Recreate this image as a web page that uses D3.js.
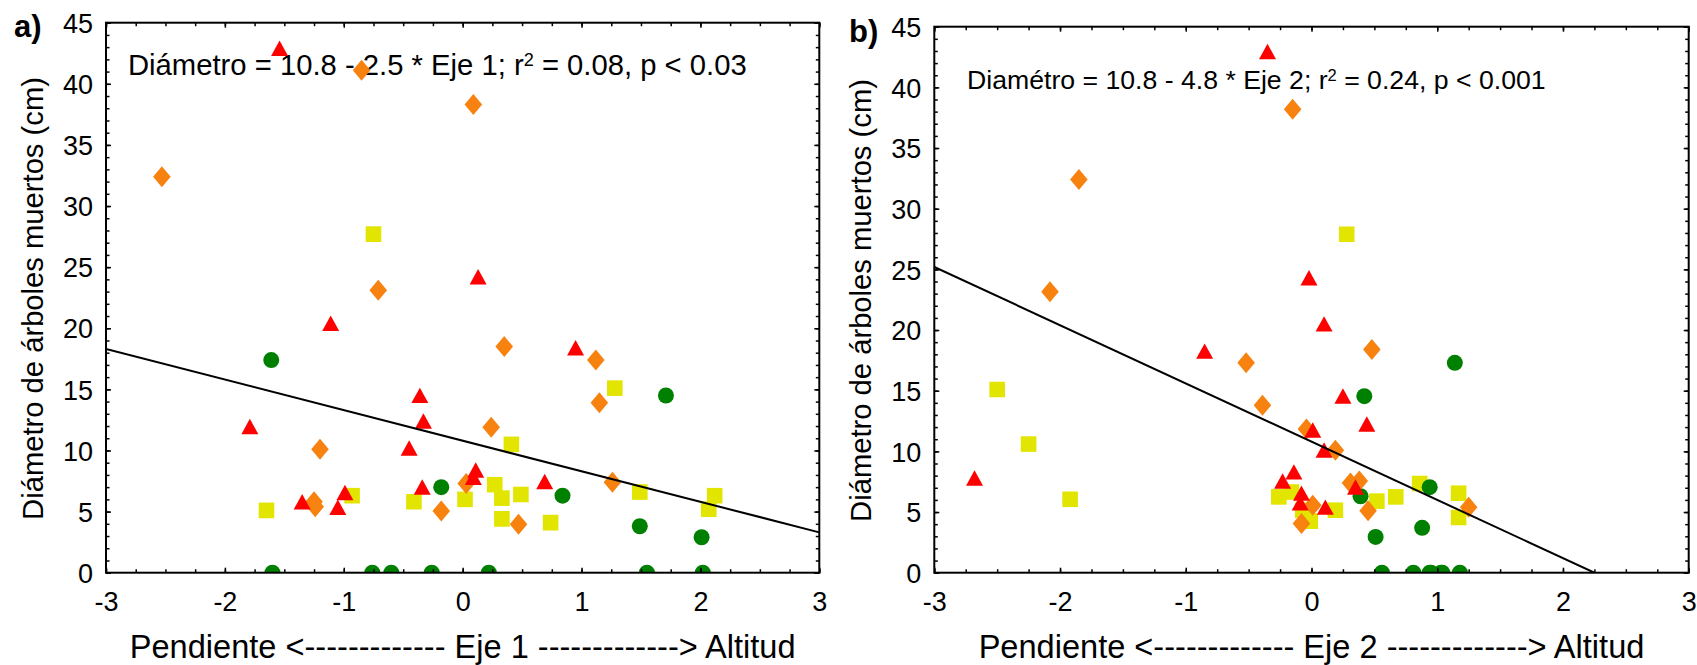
<!DOCTYPE html>
<html><head><meta charset="utf-8">
<script src="https://cdn.jsdelivr.net/npm/d3@7"></script>
<style>
body{margin:0;background:#fff;}
svg{display:block;}
text{font-family:Arial,"Liberation Sans",sans-serif;fill:#000;}
</style>
</head><body>
<svg id="chart" width="1697" height="665"></svg>
<script>
// ---------- data ----------
const xTickValues = [-3, -2, -1, 0, 1, 2, 3];
const yTickValues = [0, 5, 10, 15, 20, 25, 30, 35, 40, 45];
const panelLabels = ["a)", "b)"];
const xTitles = [
  "Pendiente <------------- Eje 1 -------------> Altitud",
  "Pendiente <------------- Eje 2 -------------> Altitud"
];
const yTitle = "Diámetro de árboles muertos (cm)";
const equationsPre = ["Diámetro = 10.8 - 2.5 * Eje 1; r", "Diamétro = 10.8 - 4.8 * Eje 2; r"];
const equationsSup = ["2", "2"];
const equationsPost = [" = 0.08, p < 0.03", " = 0.24, p < 0.001"];
const intercepts = [10.8, 10.8];
const slopes = [-2.5, -4.8];

// panel a) (Eje 1)
const aCircles = [[-1.61,17.4],[1.71,14.5],[-0.18,7.0],[0.84,6.3],[1.49,3.8],[2.01,2.9],
  [-1.60,0],[-0.76,0],[-0.60,0],[-0.26,0],[0.22,0],[1.55,0],[2.02,0]];
const aSquares = [[-0.75,27.7],[1.28,15.1],[0.41,10.5],[-0.93,6.3],[0.27,7.2],[0.33,6.1],[0.49,6.4],
  [1.49,6.6],[2.12,6.3],[2.07,5.2],[0.02,6.0],[-0.41,5.8],[-1.65,5.1],[0.33,4.4],[0.74,4.1]];
const aDiamonds = [[-0.85,41.1],[0.09,38.3],[-2.53,32.4],[-0.71,23.1],[0.35,18.5],[1.12,17.4],[1.15,13.9],
  [0.24,11.9],[-1.20,10.1],[0.03,7.3],[1.26,7.4],[-1.25,5.8],[-1.24,5.4],[-0.18,5.05],[0.47,3.96]];
const aTriangles = [[-1.54,42.9],[0.13,24.2],[-1.11,20.4],[0.95,18.4],[-0.36,14.5],[-0.33,12.4],[-1.79,11.95],
  [-0.45,10.2],[0.11,8.4],[0.09,7.8],[0.69,7.45],[-0.34,7.0],[-0.99,6.55],[-1.35,5.8],[-1.05,5.35]];

// panel b) (Eje 2)
const bCircles = [[1.14,17.3],[0.42,14.55],[0.94,7.05],[0.39,6.3],[0.88,3.7],[0.51,2.95],
  [0.56,0],[0.81,0],[0.94,0],[1.04,0],[1.18,0],[0.95,0],[1.03,0]];
const bSquares = [[0.28,27.9],[-2.50,15.1],[-2.25,10.6],[0.86,7.35],[-0.26,6.25],[-0.16,6.65],[-1.92,6.05],
  [0.67,6.25],[1.17,6.55],[0.52,5.9],[0.19,5.15],[-0.07,5.15],[-0.01,4.25],[1.17,4.55]];
const bDiamonds = [[-0.15,38.2],[-1.85,32.4],[-2.08,23.15],[0.48,18.4],[-0.52,17.3],[-0.39,13.8],[-0.04,11.85],
  [0.19,10.1],[0.31,7.4],[0.38,7.55],[0.01,5.55],[1.25,5.4],[0.45,5.1],[-0.08,4.05]];
const bTriangles = [[-0.35,42.95],[-0.02,24.3],[0.10,20.5],[-0.85,18.25],[0.25,14.55],[0.44,12.25],[0.01,11.75],
  [0.10,10.1],[-2.68,7.8],[-0.14,8.3],[-0.23,7.55],[0.35,7.05],[-0.08,6.55],[-0.09,5.75],[0.11,5.4]];

const seriesColors = {square:"#e2e500", circle:"#008000", diamond:"#f7820f", triangle:"#ff0000"};

// ---------- layout ----------
const panels = [
  {left:106, right:819.3, top:22.7, bottom:572.7, labelX:14, labelY:37, eqX:128, eqY:75, eqW:619,
   data:{square:aSquares, circle:aCircles, diamond:aDiamonds, triangle:aTriangles}},
  {left:934.3, right:1688.7, top:26.7, bottom:572.7, labelX:849, labelY:41.5, eqX:967, eqY:89, eqW:579,
   data:{square:bSquares, circle:bCircles, diamond:bDiamonds, triangle:bTriangles}}
];

const shapes = {
  square: "M-7.8,-7.8h15.6v15.6h-15.6Z",
  circle: "M8,0A8,8 0 1,1 -8,0A8,8 0 1,1 8,0Z",
  diamond: "M0,-10.5L8.8,0L0,10.5L-8.8,0Z",
  triangle: "M0,-7.8L8.5,7.6L-8.5,7.6Z"
};
const drawOrder = ["square", "circle", "diamond", "triangle"];

const svg = d3.select("#chart");
const FONT = 'Arial, "Liberation Sans", sans-serif';

function fitFont(sel, base, target) {
  sel.style("font-size", base + "px");
  const w = sel.node().getComputedTextLength();
  sel.style("font-size", (base * target / w) + "px");
}

panels.forEach((p, i) => {
  const x = d3.scaleLinear().domain([-3, 3]).range([p.left, p.right]);
  const y = d3.scaleLinear().domain([0, 45]).range([p.bottom, p.top]);
  const g = svg.append("g");

  const clipId = "clip" + i;
  svg.append("defs").append("clipPath").attr("id", clipId)
    .append("rect").attr("x", p.left).attr("y", p.top)
    .attr("width", p.right - p.left).attr("height", p.bottom - p.top);

  // equation text
  const eq = g.append("text").attr("x", p.eqX).attr("y", p.eqY);
  eq.append("tspan").text(equationsPre[i]);
  eq.append("tspan").attr("dy", "-0.5em").style("font-size", "0.62em").text(equationsSup[i]);
  eq.append("tspan").attr("dy", "0.31em").text(equationsPost[i]);
  fitFont(eq, 27, p.eqW);

  // points
  const pts = g.append("g").attr("clip-path", `url(#${clipId})`);
  drawOrder.forEach(k => {
    pts.selectAll("path." + k).data(p.data[k]).join("path")
      .attr("class", k)
      .attr("d", shapes[k])
      .attr("transform", d => `translate(${x(d[0])},${y(d[1])})`)
      .attr("fill", seriesColors[k]);
  });

  // regression line
  const xEnd = Math.min(3, -intercepts[i] / slopes[i]);
  const xs = [-3, xEnd];
  pts.append("path")
    .datum(xs)
    .attr("d", d3.line().x(d => x(d)).y(d => y(intercepts[i] + slopes[i] * d)))
    .attr("fill", "none").attr("stroke", "#000").attr("stroke-width", 2);

  // axes (ticks inward on all sides)
  const xMinor = d3.range(-3, 3.001, 0.25);
  const yMinor = d3.range(0, 45.001, 1);
  const tickStyle = s => { s.select(".domain").remove(); s.selectAll("line").attr("stroke", "#000").attr("stroke-width", 1.5); };

  g.append("g").attr("transform", `translate(0,${p.bottom})`)
    .call(d3.axisBottom(x).tickValues(xMinor).tickSize(-3.5).tickFormat("")).call(tickStyle);
  g.append("g").attr("transform", `translate(0,${p.top})`)
    .call(d3.axisTop(x).tickValues(xMinor).tickSize(-3.5).tickFormat("")).call(tickStyle);
  g.append("g").attr("transform", `translate(${p.left},0)`)
    .call(d3.axisLeft(y).tickValues(yMinor).tickSize(-3.5).tickFormat("")).call(tickStyle);
  g.append("g").attr("transform", `translate(${p.right},0)`)
    .call(d3.axisRight(y).tickValues(yMinor).tickSize(-3.5).tickFormat("")).call(tickStyle);

  const xAx = g.append("g").attr("transform", `translate(0,${p.bottom})`)
    .call(d3.axisBottom(x).tickValues(xTickValues).tickSize(-5).tickPadding(19).tickFormat(d => String(d)));
  tickStyle(xAx);
  xAx.selectAll("text").style("font-size", "27px").style("font-family", FONT).attr("fill", "#000");

  const yAx = g.append("g").attr("transform", `translate(${p.left},0)`)
    .call(d3.axisLeft(y).tickValues(yTickValues).tickSize(-5).tickPadding(13).tickFormat(d => String(d)));
  tickStyle(yAx);
  yAx.selectAll("text").style("font-size", "27px").style("font-family", FONT).attr("fill", "#000").attr("dy", "0.36em");

  g.append("g").attr("transform", `translate(0,${p.top})`)
    .call(d3.axisTop(x).tickValues(xTickValues).tickSize(-5).tickFormat("")).call(tickStyle);
  g.append("g").attr("transform", `translate(${p.right},0)`)
    .call(d3.axisRight(y).tickValues(yTickValues).tickSize(-5).tickFormat("")).call(tickStyle);

  // frame
  g.append("rect").attr("x", p.left).attr("y", p.top)
    .attr("width", p.right - p.left).attr("height", p.bottom - p.top)
    .attr("fill", "none").attr("stroke", "#000").attr("stroke-width", 2);

  // titles
  const xt = g.append("text").attr("x", (p.left + p.right) / 2).attr("y", 658)
    .attr("text-anchor", "middle").text(xTitles[i]);
  fitFont(xt, 30, 666);

  const yt = g.append("text")
    .attr("transform", `translate(${p.left - 63.3},${(p.top + p.bottom) / 2 + 0.8}) rotate(-90)`)
    .attr("text-anchor", "middle").text(yTitle);
  fitFont(yt, 29, 443);

  g.append("text").attr("x", p.labelX).attr("y", p.labelY)
    .style("font-size", "31px").style("font-weight", "bold").text(panelLabels[i]);
});
</script>
</body></html>
